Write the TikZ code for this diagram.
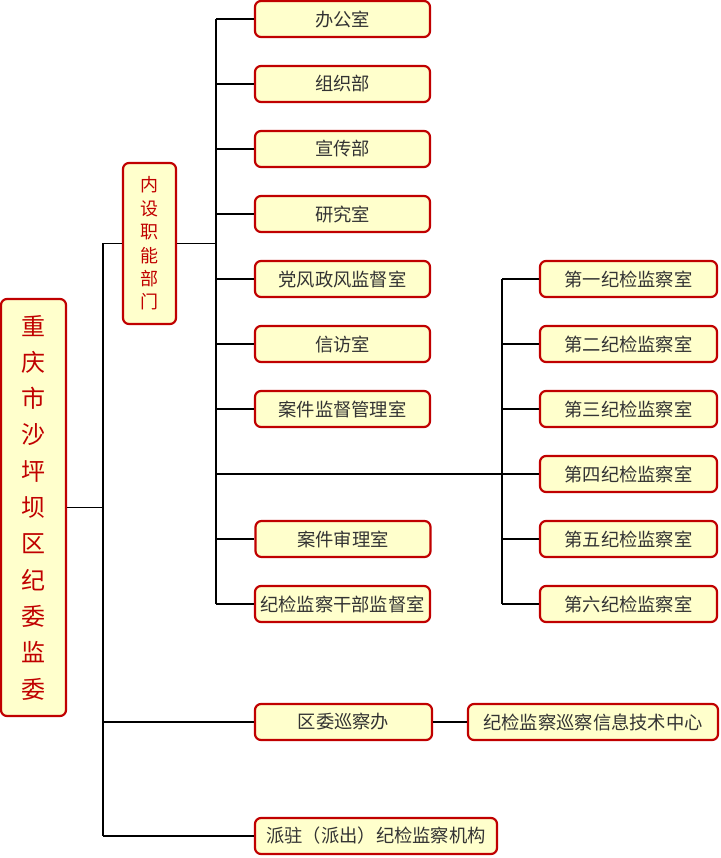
\documentclass[tikz,border=0pt]{standalone}
\usepackage{fontspec}
\setmainfont{Noto Sans CJK SC}
\newfontfamily\cjk{Noto Sans CJK SC}
\definecolor{boxred}{HTML}{C00000}
\definecolor{boxfill}{HTML}{FFFFCC}
\definecolor{txt}{HTML}{333333}
\begin{document}
\begin{tikzpicture}[x=1pt,y=-1pt,
  box/.style={draw=boxred,line width=2.2pt,fill=boxfill,rounded corners=6pt,inner sep=0pt,text=txt,font=\cjk\fontsize{18.3}{20}\selectfont},
  leaf/.style={box,minimum width=175pt,minimum height=36pt},
  vbox/.style={box,text=boxred,align=center},
  conn/.style={line width=1.5pt,black}]
\useasboundingbox (0,0) rectangle (720,858);
% root
\node[vbox,minimum width=65pt,minimum height=417pt,font=\cjk\fontsize{24}{36.3}\selectfont] (root) at (33.5,507.5) {重\\庆\\市\\沙\\坪\\坝\\区\\纪\\委\\监\\委};
\node[vbox,minimum width=53pt,minimum height=161pt,font=\cjk\fontsize{18}{23.4}\selectfont] (inner) at (149.5,243.5) {内\\设\\职\\能\\部\\门};
% leaves
\node[leaf] (l1) at (342.5,19) {办公室};
\node[leaf] (l2) at (342.5,84) {组织部};
\node[leaf] (l3) at (342.5,149) {宣传部};
\node[leaf] (l4) at (342.5,214) {研究室};
\node[leaf] (l5) at (342.5,279) {党风政风监督室};
\node[leaf] (l6) at (342.5,344) {信访室};
\node[leaf] (l7) at (342.5,409) {案件监督管理室};
\node[leaf] (l8) at (343,539) {案件审理室};
\node[leaf] (l9) at (342.5,604) {纪检监察干部监督室};
% right
\node[leaf,minimum width=177pt] (r1) at (628.5,279) {第一纪检监察室};
\node[leaf,minimum width=177pt] (r2) at (628.5,344) {第二纪检监察室};
\node[leaf,minimum width=177pt] (r3) at (628.5,409) {第三纪检监察室};
\node[leaf,minimum width=177pt] (r4) at (628.5,474) {第四纪检监察室};
\node[leaf,minimum width=177pt] (r5) at (628.5,539) {第五纪检监察室};
\node[leaf,minimum width=177pt] (r6) at (628.5,604) {第六纪检监察室};
% bottom
\node[leaf,minimum width=177pt] (x1) at (343.5,722) {区委巡察办};
\node[leaf,minimum width=250pt] (x2) at (593,722) {纪检监察巡察信息技术中心};
\node[leaf,minimum width=242pt] (p1) at (376,836) {派驻（派出）纪检监察机构};
% coordinates
\coordinate (ta) at (103,243.5);
\coordinate (tb) at (103,836);
\coordinate (sa) at (216,19);
\coordinate (sb) at (216,604);
\coordinate (ua) at (502,279);
\coordinate (ub) at (502,604);
% connectors
\draw[conn] (root.east) -- (root.east -| ta);
\draw[conn] (ta) -- (tb);
\draw[conn] (ta) -- (inner.west);
\draw[conn] (ta |- x1) -- (x1.west);
\draw[conn] (tb) -- (p1.west);
\draw[conn] (inner.east) -- (inner.east -| sa);
\draw[conn] (sa) -- (sb);
\foreach \n in {l1,l2,l3,l4,l5,l6,l7,l8,l9} \draw[conn] (sa |- \n) -- (\n.west);
\draw[conn] (sa |- r4) -- (r4.west);
\draw[conn] (ua) -- (ub);
\foreach \n in {r1,r2,r3,r5,r6} \draw[conn] (ua |- \n) -- (\n.west);
\draw[conn] (x1.east) -- (x2.west);
\end{tikzpicture}
\end{document}
